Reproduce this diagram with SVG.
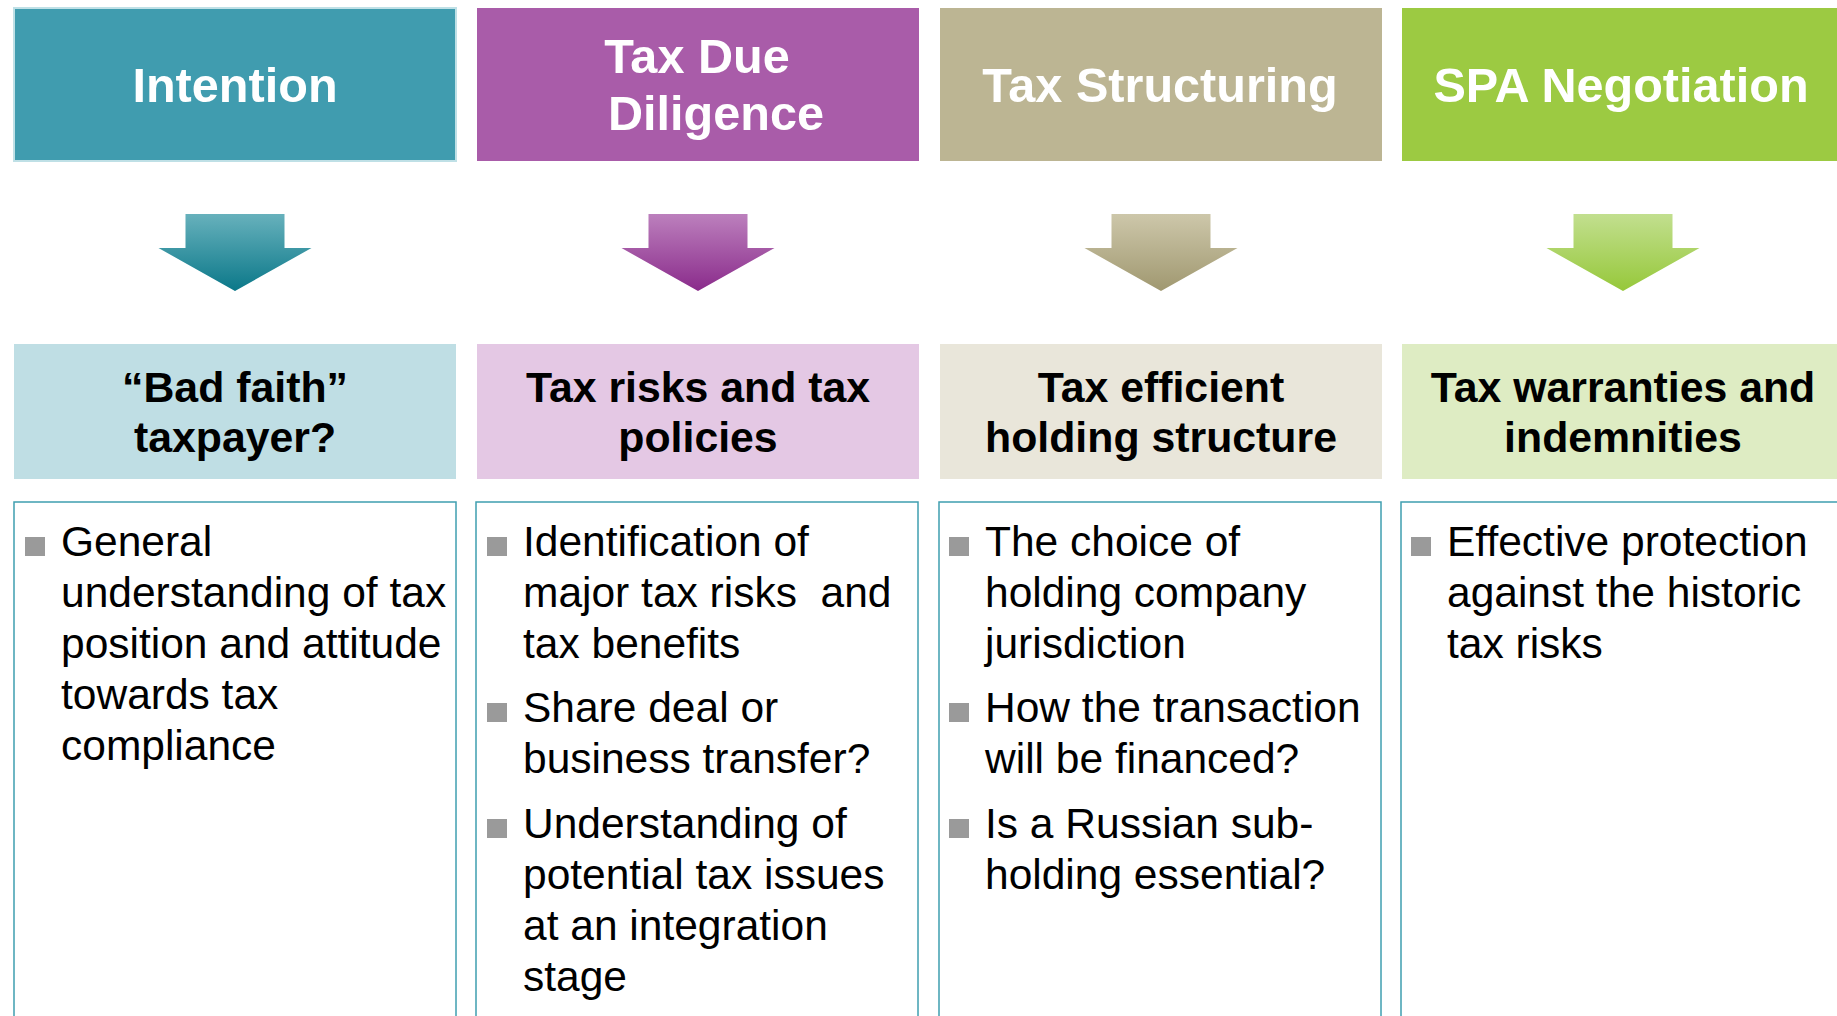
<svg xmlns="http://www.w3.org/2000/svg" width="1837" height="1016" viewBox="0 0 1837 1016">
  <style>
    .hdr { font-family: "Liberation Sans", Arial, sans-serif; font-weight: bold; font-size: 48.6px; fill: #ffffff; text-anchor: middle; }
    .sub { font-family: "Liberation Sans", Arial, sans-serif; font-weight: bold; font-size: 42.8px; fill: #000000; text-anchor: middle; }
    .body { font-family: "Liberation Sans", Arial, sans-serif; font-size: 42.5px; fill: #000000; }
    .card { fill: #ffffff; stroke: #3f9fb0; stroke-width: 1.5; }
    .bullet { fill: #9a9a9a; }
  </style>
  <defs>
    <linearGradient id="gTeal" x1="0" y1="0" x2="0" y2="1">
      <stop offset="0" stop-color="#67b1bc"/>
      <stop offset="1" stop-color="#0b7889"/>
    </linearGradient>
    <linearGradient id="gPurple" x1="0" y1="0" x2="0" y2="1">
      <stop offset="0" stop-color="#bc80bd"/>
      <stop offset="1" stop-color="#8a2b8b"/>
    </linearGradient>
    <linearGradient id="gTan" x1="0" y1="0" x2="0" y2="1">
      <stop offset="0" stop-color="#cdc7aa"/>
      <stop offset="1" stop-color="#a09870"/>
    </linearGradient>
    <linearGradient id="gGreen" x1="0" y1="0" x2="0" y2="1">
      <stop offset="0" stop-color="#c2df8f"/>
      <stop offset="1" stop-color="#96c83a"/>
    </linearGradient>
  </defs>

  <rect width="1837" height="1016" fill="#ffffff"/>

  <!-- Column 1: Intention -->
  <g id="intention">
    <rect x="14" y="8" width="442" height="153" fill="#409caf" stroke="#bfe0e6" stroke-width="2"/>
    <text class="hdr" x="235" y="102">Intention</text>
  </g>
  <g id="bad-faith">
    <rect x="14" y="344" width="442" height="135" fill="#bfdee4"/>
    <text class="sub" x="235" y="402">“Bad faith”</text>
    <text class="sub" x="235" y="452">taxpayer?</text>
  </g>
  <g id="intention-details">
    <rect class="card" x="14" y="502" width="442" height="530"/>
    <rect class="bullet" x="25" y="537" width="20" height="19"/>
    <text class="body">
      <tspan x="61" y="556">General</tspan>
      <tspan x="61" y="607">understanding of tax</tspan>
      <tspan x="61" y="658">position and attitude</tspan>
      <tspan x="61" y="709">towards tax</tspan>
      <tspan x="61" y="760">compliance</tspan>
    </text>
  </g>

  <!-- Column 2: Tax Due Diligence -->
  <g id="due-diligence">
    <rect x="477" y="8" width="442" height="153" fill="#a95ca9"/>
    <text class="hdr" x="697" y="73">Tax Due</text>
    <text class="hdr" x="716" y="130">Diligence</text>
  </g>
  <g id="tax-risks">
    <rect x="477" y="344" width="442" height="135" fill="#e4c8e4"/>
    <text class="sub" x="698" y="402">Tax risks and tax</text>
    <text class="sub" x="698" y="452">policies</text>
  </g>
  <g id="due-diligence-details">
    <rect class="card" x="476" y="502" width="442" height="530"/>
    <rect class="bullet" x="487" y="537" width="20" height="19"/>
    <rect class="bullet" x="487" y="703" width="20" height="19"/>
    <rect class="bullet" x="487" y="819" width="20" height="19"/>
    <text class="body" xml:space="preserve"><tspan x="523" y="556">Identification of</tspan><tspan x="523" y="607">major tax risks  and</tspan><tspan x="523" y="658">tax benefits</tspan><tspan x="523" y="722">Share deal or</tspan><tspan x="523" y="773">business transfer?</tspan><tspan x="523" y="838">Understanding of</tspan><tspan x="523" y="889">potential tax issues</tspan><tspan x="523" y="940">at an integration</tspan><tspan x="523" y="991">stage</tspan></text>
  </g>

  <!-- Column 3: Tax Structuring -->
  <g id="structuring">
    <rect x="940" y="8" width="442" height="153" fill="#bcb593"/>
    <text class="hdr" x="1160" y="102">Tax Structuring</text>
  </g>
  <g id="holding-structure">
    <rect x="940" y="344" width="442" height="135" fill="#e9e6da"/>
    <text class="sub" x="1161" y="402">Tax efficient</text>
    <text class="sub" x="1161" y="452">holding structure</text>
  </g>
  <g id="structuring-details">
    <rect class="card" x="939" y="502" width="442" height="530"/>
    <rect class="bullet" x="949" y="537" width="20" height="19"/>
    <rect class="bullet" x="949" y="703" width="20" height="19"/>
    <rect class="bullet" x="949" y="819" width="20" height="19"/>
    <text class="body">
      <tspan x="985" y="556">The choice of</tspan>
      <tspan x="985" y="607">holding company</tspan>
      <tspan x="985" y="658">jurisdiction</tspan>
      <tspan x="985" y="722">How the transaction</tspan>
      <tspan x="985" y="773">will be financed?</tspan>
      <tspan x="985" y="838">Is a Russian sub-</tspan>
      <tspan x="985" y="889">holding essential?</tspan>
    </text>
  </g>

  <!-- Column 4: SPA Negotiation -->
  <g id="spa-negotiation">
    <rect x="1402" y="8" width="442" height="153" fill="#9cca42"/>
    <text class="hdr" x="1621" y="102">SPA Negotiation</text>
  </g>
  <g id="warranties">
    <rect x="1402" y="344" width="442" height="135" fill="#deecc3"/>
    <text class="sub" x="1623" y="402">Tax warranties and</text>
    <text class="sub" x="1623" y="452">indemnities</text>
  </g>
  <g id="spa-details">
    <rect class="card" x="1401" y="502" width="442" height="530"/>
    <rect class="bullet" x="1411" y="537" width="20" height="19"/>
    <text class="body">
      <tspan x="1447" y="556">Effective protection</tspan>
      <tspan x="1447" y="607">against the historic</tspan>
      <tspan x="1447" y="658">tax risks</tspan>
    </text>
  </g>

  <!-- Downward block arrows linking each phase to its focus -->
  <g id="connectors">
    <polygon fill="url(#gTeal)" points="185.5,214 284.5,214 284.5,248 311.5,248 235,291 158.5,248 185.5,248"/>
    <polygon fill="url(#gPurple)" points="648.5,214 747.5,214 747.5,248 774.5,248 698,291 621.5,248 648.5,248"/>
    <polygon fill="url(#gTan)" points="1111.5,214 1210.5,214 1210.5,248 1237.5,248 1161,291 1084.5,248 1111.5,248"/>
    <polygon fill="url(#gGreen)" points="1573.5,214 1672.5,214 1672.5,248 1699.5,248 1623,291 1546.5,248 1573.5,248"/>
  </g>
</svg>
